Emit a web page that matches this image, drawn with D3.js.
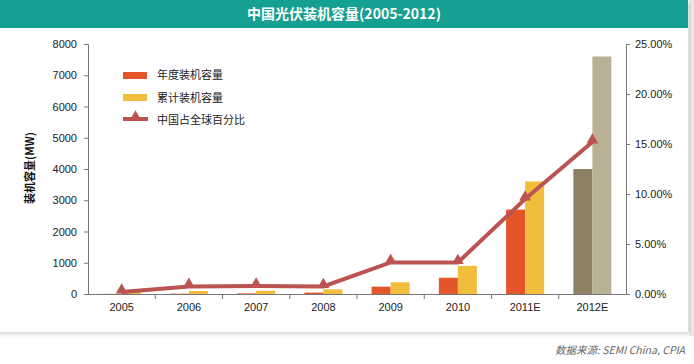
<!DOCTYPE html>
<html lang="zh">
<head>
<meta charset="UTF-8">
<title>中国光伏装机容量(2005-2012)</title>
<script src="https://d3js.org/d3.v7.min.js"></script>
<style>
    body {
        margin: 0;
        background: #fff;
        font-family: "Noto Sans CJK SC", "Liberation Sans", sans-serif;
    }
    svg { display: block; }
    .tick text { font-size: 11px; fill: #222; }
    .axis path, .axis line { stroke: #777; }
</style>
</head>
<body>
<script>
    const years = ["2005", "2006", "2007", "2008", "2009", "2010", "2011E", "2012E"];
    const annual = [5, 10, 20, 45, 235, 520, 2700, 4000];
    const cumulative = [85, 95, 105, 150, 375, 900, 3600, 7600];
    const share = [0.2, 0.76, 0.8, 0.75, 3.16, 3.15, 9.5, 15.2];
    const leftTicks = [0, 1000, 2000, 3000, 4000, 5000, 6000, 7000, 8000];
    const rightTicks = [0, 5, 10, 15, 20, 25];

    const W = 694, H = 364;
    const svg = d3.select("body").append("svg")
        .attr("width", W)
        .attr("height", H);

    svg.append("rect").attr("width", W).attr("height", H).attr("fill", "#fff");
    svg.append("rect").attr("x", 689).attr("width", 5).attr("height", 336).attr("fill", "#ececec");

    // panel with soft shadow
    const defs = svg.append("defs");
    const f = defs.append("filter").attr("id", "shadow").attr("x", "-5%").attr("y", "-5%").attr("width", "110%").attr("height", "115%");
    f.append("feDropShadow").attr("dx", 2).attr("dy", 2).attr("stdDeviation", 2).attr("flood-color", "#000").attr("flood-opacity", 0.16);
    svg.append("rect")
        .attr("x", -10).attr("y", 0)
        .attr("width", 698).attr("height", 332)
        .attr("fill", "#fff")
        .attr("filter", "url(#shadow)");

    // title bar
    svg.append("rect").attr("x", 0).attr("y", 0).attr("width", 688).attr("height", 28).attr("fill", "#16a091");
    svg.append("text")
        .attr("x", 344).attr("y", 19)
        .attr("text-anchor", "middle")
        .attr("fill", "#fff")
        .attr("font-size", 14)
        .attr("font-weight", "bold")
        .text("中国光伏装机容量(2005-2012)");

    const plotL = 88, plotR = 626, plotT = 44, plotB = 294;

    const x = d3.scaleBand().domain(years).range([plotL, plotR]);
    const y = d3.scaleLinear().domain([0, 8000]).range([plotB, plotT]);
    const y2 = d3.scaleLinear().domain([0, 25]).range([plotB, plotT]);

    const barW = 19;
    const bars = svg.append("g");
    years.forEach((yr, i) => {
        const cx = x(yr) + x.bandwidth() / 2;
        const est = yr === "2012E";
        bars.append("rect")
            .attr("x", cx - barW).attr("width", barW)
            .attr("y", y(annual[i])).attr("height", y(0) - y(annual[i]))
            .attr("fill", est ? "#8c8160" : "#e4562a");
        bars.append("rect")
            .attr("x", cx).attr("width", barW)
            .attr("y", y(cumulative[i])).attr("height", y(0) - y(cumulative[i]))
            .attr("fill", est ? "#b9b193" : "#f1bd3d");
    });

    // axes
    svg.append("g").attr("class", "axis")
        .attr("transform", `translate(${plotL},0)`)
        .call(d3.axisLeft(y).tickValues(leftTicks).tickSize(4).tickSizeOuter(4).tickPadding(7)
            .tickFormat(d3.format("d")));
    svg.append("g").attr("class", "axis")
        .attr("transform", `translate(${plotR},0)`)
        .call(d3.axisRight(y2).tickValues(rightTicks).tickSize(4).tickSizeOuter(4).tickPadding(5)
            .tickFormat(d => d.toFixed(2) + "%"));
    const xAxis = svg.append("g").attr("class", "axis")
        .attr("transform", `translate(0,${plotB})`)
        .call(d3.axisBottom(x).tickSize(0).tickSizeOuter(0).tickPadding(9));
    xAxis.select(".domain").attr("d", `M${plotL - 2},0.5H${plotR}`);
    // tick marks between categories
    xAxis.selectAll(".sep")
        .data(years.slice(1))
        .enter().append("line")
        .attr("class", "sep")
        .attr("x1", d => x(d)).attr("x2", d => x(d))
        .attr("y1", 0).attr("y2", 5)
        .attr("stroke", "#777");

    // share line
    const pts = years.map((yr, i) => [x(yr) + x.bandwidth() / 2, y2(share[i])]);
    svg.append("path")
        .attr("d", d3.line()(pts))
        .attr("fill", "none")
        .attr("stroke", "#bb5350")
        .attr("stroke-width", 4);
    const tri = d3.symbol().type(d3.symbolTriangle).size(60);
    svg.selectAll(".mark")
        .data(pts)
        .enter().append("path")
        .attr("class", "mark")
        .attr("transform", d => `translate(${d[0]},${d[1] - 2})`)
        .attr("d", tri())
        .attr("fill", "#bb5350");

    // y label
    svg.append("text")
        .attr("transform", "translate(34,168) rotate(-90)")
        .attr("text-anchor", "middle")
        .attr("font-size", 11)
        .attr("font-weight", "bold")
        .attr("fill", "#111")
        .text("装机容量(MW)");

    // legend
    const leg = svg.append("g").attr("transform", "translate(123,0)");
    leg.append("rect").attr("x", 0).attr("y", 72).attr("width", 24).attr("height", 7).attr("fill", "#e4562a");
    leg.append("rect").attr("x", 0).attr("y", 94).attr("width", 24).attr("height", 7).attr("fill", "#f1bd3d");
    leg.append("line").attr("x1", 0).attr("x2", 25).attr("y1", 119).attr("y2", 119)
        .attr("stroke", "#bb5350").attr("stroke-width", 4);
    leg.append("path").attr("transform", "translate(12.5,117)").attr("d", tri()).attr("fill", "#bb5350");
    const legText = ["年度装机容量", "累计装机容量", "中国占全球百分比"];
    leg.selectAll(".lt").data(legText).enter().append("text")
        .attr("x", 34).attr("y", (d, i) => 79 + i * 22.5)
        .attr("font-size", 11)
        .attr("fill", "#222")
        .text(d => d);

    // source
    svg.append("text")
        .attr("x", 685).attr("y", 354)
        .attr("text-anchor", "end")
        .attr("font-size", 10.5)
        .attr("font-style", "italic")
        .attr("fill", "#666")
        .text("数据来源: SEMI China, CPIA");
</script>
</body>
</html>
